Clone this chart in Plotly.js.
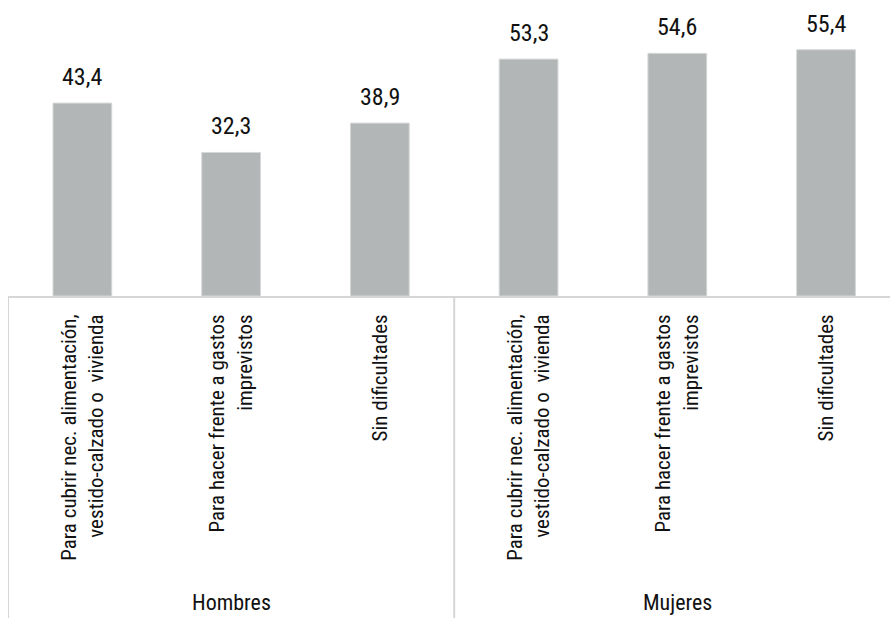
<!DOCTYPE html>
<html>
<head>
<meta charset="utf-8">
<script src="https://cdn.plot.ly/plotly-3.0.1.min.js"></script>
<style>html,body{margin:0;padding:0;background:#fff;}#chart{width:890px;height:618px;}</style>
</head>
<body>
<div id="chart"></div>
<script>
// Data
const groups = ["Hombres", "Mujeres"];
const categories = [
  "Para cubrir nec. alimentación,<br>vestido-calzado o  vivienda",
  "Para hacer frente a gastos<br>imprevistos",
  "Sin dificultades"
];
const hombresValues = [43.4, 32.3, 38.9];
const mujeresValues = [53.3, 54.6, 55.4];

const FONT = "'Roboto Condensed', 'Liberation Sans Narrow', 'DejaVu Sans Condensed', sans-serif";

const allValues = hombresValues.concat(mujeresValues);
const tickText = categories.concat(categories);
const xIdx = allValues.map((v, i) => i);

const bar = {
  type: "bar",
  x: xIdx,
  y: allValues,
  marker: { color: "#b3b6b6", line: { color: "#d6d8d8", width: 1 } },
  hoverinfo: "skip"
};

const annotations = allValues.map((v, i) => ({
  x: i, y: v, xref: "x", yref: "y",
  text: v.toFixed(1).replace(".", ","),
  showarrow: false, yanchor: "bottom", yshift: 10,
  font: { family: FONT, size: 24, color: "#111" }
}));

// group labels
const nPer = categories.length;
groups.forEach((g, gi) => {
  annotations.push({
    x: gi * nPer + (nPer - 1) / 2, xref: "x",
    y: -1.034, yref: "paper", yanchor: "middle",
    text: g, showarrow: false,
    font: { family: FONT, size: 22, color: "#111" }
  });
});

// divider lines (left edge and between groups)
const shapes = [];
for (let gi = 0; gi < groups.length; gi++) {
  const xv = gi * nPer - 0.5;
  shapes.push({
    type: "line", xref: "x", yref: "paper",
    x0: xv, x1: xv, y0: 0, y1: -1.1,
    line: { color: "#d6d6d6", width: 2 }
  });
}

const layout = {
  width: 890, height: 618,
  margin: { l: 8, r: 0, t: 0, b: 322 },
  paper_bgcolor: "#fff", plot_bgcolor: "#fff",
  showlegend: false,
  bargap: 0.605,
  separators: ",.",
  xaxis: {
    range: [-0.5, 5.43],
    tickvals: xIdx, ticktext: tickText,
    tickangle: -90,
    ticks: "", ticklabelstandoff: 8,
    showgrid: false, zeroline: false,
    showline: true, linecolor: "#d6d6d6", linewidth: 2,
    tickfont: { family: FONT, size: 21, color: "#111" },
    fixedrange: true
  },
  yaxis: {
    range: [0, 66.6],
    visible: false, showgrid: false, zeroline: false, fixedrange: true
  },
  annotations: annotations,
  shapes: shapes
};

Plotly.newPlot("chart", [bar], layout, { displayModeBar: false, staticPlot: true });
</script>
</body>
</html>
